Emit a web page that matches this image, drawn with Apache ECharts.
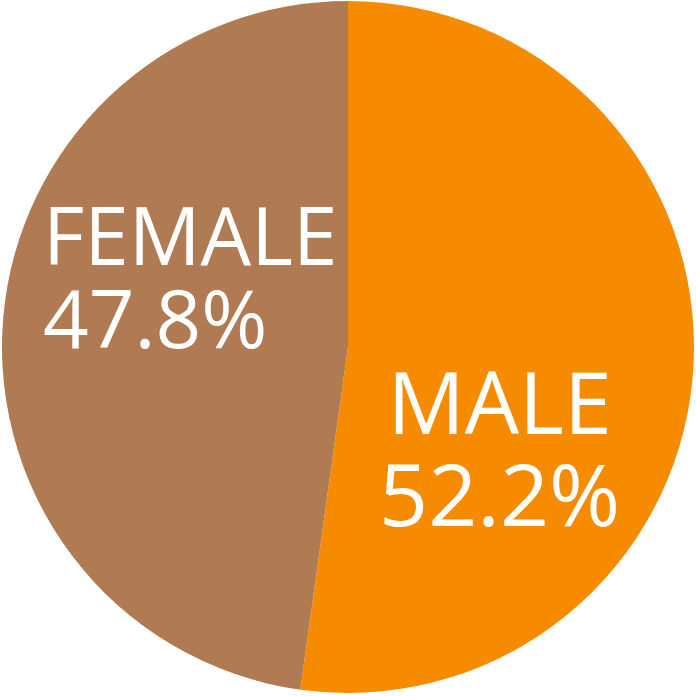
<!DOCTYPE html>
<html>
<head>
<meta charset="utf-8">
<script src="https://cdn.jsdelivr.net/npm/echarts@6/dist/echarts.min.js"></script>
<style>
  html, body { margin: 0; padding: 0; background: #fff; }
  #chart { width: 696px; height: 696px; }
</style>
</head>
<body>
<div id="chart"></div>
<script>
const categories = ['MALE', 'FEMALE'];
const shares = [52.2, 47.8];
const colors = ['#F78B00', '#B07A52'];

const chart = echarts.init(document.getElementById('chart'));

// label look per slice
const labelSpots = [
  { offset: [-24, 96], size: 86, lh: 92, width: 0, align: 'center' },
  { offset: [18, -51], size: 80, lh: 83, width: 295, align: 'left' }
];

const pieData = categories.map(function (name, i) {
  const s = labelSpots[i];
  const txt = { fontSize: s.size, lineHeight: s.lh, align: s.align };
  if (s.width) txt.width = s.width;
  return {
    name: name,
    value: shares[i],
    itemStyle: { color: colors[i] },
    label: {
      offset: s.offset,
      formatter: '{t|' + name + '}\n{t|' + shares[i].toFixed(1) + '%}',
      rich: { t: txt }
    }
  };
});

chart.setOption({
  animation: false,
  series: [{
    type: 'pie',
    center: [348, 347],
    radius: [0, 346],
    startAngle: 90,
    clockwise: true,
    itemStyle: { borderWidth: 0 },
    label: {
      show: true,
      position: 'inside',
      color: '#fff',
      fontFamily: 'Open Sans',
      fontWeight: 500
    },
    labelLine: { show: false },
    emphasis: { disabled: true },
    data: pieData
  }]
});
</script>
</body>
</html>
